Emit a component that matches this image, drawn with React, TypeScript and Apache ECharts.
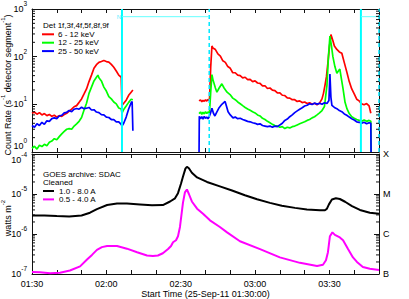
import React, { useEffect, useRef } from 'react';
import * as echarts from 'echarts';

const FONT = "'Liberation Sans', Arial, Helvetica, sans-serif";
const AXIS_COLOR = '#111';

// minutes after 01:30 UT
const X_MIN = 0;
const X_MAX = 140;
const TOP_MIN = 1;
const TOP_MAX = 1000;
const GOES_MIN = 1e-7;
const GOES_MAX = 1e-4;

const LEGEND_TITLE = 'Det 1f,3f,4f,5f,8f,9f';
const LEGEND_BANDS = ['6 - 12 keV', '12 - 25 keV', '25 - 50 keV'];
const BAND_COLORS = ['#ff0000', '#00ff00', '#0000ff'];
const GOES_TITLE = ['GOES archive: SDAC', 'Cleaned'];
const GOES_BANDS = ['1.0 - 8.0 A', '0.5 - 4.0 A'];
const GOES_COLORS = ['#000000', '#ff00ff'];
const GOES_CLASSES = ['B', 'C', 'M', 'X'];
const X_TITLE = 'Start Time (25-Sep-11 01:30:00)';

// RHESSI flags (minutes)
const NIGHT_START = 36.3;
const NIGHT_END = 71.5;
const SAA_START = 132.7;
const SAA_END = 140;
const FLAG_LEVEL = 690;

// count rates, [minute, counts/s]
const RATE_6_12: (number | null)[][] = [
  [0, 6.5], [1, 6.9], [2, 6.2], [3, 6.7], [4, 6.0], [5, 6.4], [6, 5.8], [7, 6.1], [8, 5.6], [9, 5.9],
  [10, 5.4], [11, 5.8], [12, 5.6], [13, 6.1], [14, 6.5], [15, 7.2], [16, 7.9], [17, 8.9], [18, 9.4], [19, 11],
  [20, 13], [21, 16.5], [22, 21], [23, 30], [24, 41], [25, 57], [26, 68], [27, 76], [28, 79], [29, 83],
  [30, 79], [31, 77], [32, 69], [33, 60], [34, 50], [35, 41], [36, 37], [36.3, 9.5], [37, 10.5], [38, 12.2],
  [39, 15.5], [40, 18], [40.7, 20],
  [55, null],
  [67.4, 11.8], [68, 12.4], [68.5, 11.3], [69, 12.1], [69.5, 11.6], [70, 12.5], [70.5, 11.7], [71, 12.6], [71.6, 12.0],
  [72.1, 60], [72.6, 168], [73, 152], [74, 141], [75, 114], [76, 103], [77, 82], [78, 76], [79, 62], [80, 57],
  [81, 46], [82, 46], [83, 41], [84, 40], [85, 36], [86, 37], [87, 33], [88, 33.5], [89, 30], [90, 31],
  [91, 28], [92, 27.5], [93, 24.5], [94, 24.5], [95, 21.5], [96, 22], [97, 19.8], [98, 19.4], [99, 17.3], [100, 17.4],
  [101, 15.5], [102, 15.3], [103, 13.6], [104, 13.5], [105, 12.5], [106, 12.5], [107, 11.5], [108, 11.8], [109, 10.9], [110, 11.2],
  [111, 10.4], [112, 10.8], [113, 10.0], [114, 10.5], [115, 9.8], [116, 10.6], [117, 13], [117.6, 17], [118.2, 25], [118.8, 38],
  [119.4, 75], [120, 160], [120.6, 290], [121.4, 215], [122, 168], [123, 142], [124, 126], [125, 118], [126, 75], [127, 48],
  [128, 30], [129, 21], [130, 16.5], [131, 12.8], [132, 11.8], [133, 10.2], [134, 9.8], [135, 10.4], [136, 9.3], [136.7, 6.5],
];

const RATE_12_25: (number | null)[][] = [
  [0, 1.2], [1, 1.32], [2, 1.15], [3, 1.38], [4, 1.3], [5, 1.45], [6, 1.35], [7, 1.6], [8, 1.7], [9, 1.9],
  [10, 1.8], [11, 2.1], [12, 2.4], [13, 2.7], [14, 3.0], [15, 3.1], [16, 3.0], [17, 3.5], [18, 3.9], [19, 4.4],
  [20, 5.3], [21, 7.6], [22, 10.5], [23, 17], [24, 23], [25, 31], [26, 37], [26.6, 41], [27, 36], [28, 31],
  [29, 23], [30, 19], [31, 14.5], [32, 13], [33, 11.2], [34, 10.2], [35, 8.4], [36, 8.0], [36.3, 6.5], [37, 7.8],
  [38, 9.2], [39, 11], [40, 12.8], [40.7, 12.5],
  [55, null],
  [67.4, 6.4], [68, 6.9], [68.5, 6.2], [69, 6.8], [69.5, 6.3], [70, 7.0], [70.5, 6.4], [71, 6.9], [71.6, 6.6],
  [72.1, 18], [72.6, 42], [73, 33], [74, 22], [74.6, 18], [75.5, 22], [76.6, 27], [77.5, 22], [78.7, 18], [79.9, 16],
  [81, 13.5], [82, 12.5], [83, 11.2], [84, 10.3], [85, 9.4], [86, 8.6], [87, 8.0], [88, 7.5], [89, 7.0], [90, 6.6],
  [91, 6.0], [92, 5.7], [93, 5.1], [94, 4.8], [95, 4.4], [96, 4.1], [97, 3.8], [98, 3.6], [99, 3.5], [100, 3.3],
  [101, 3.4], [102, 3.1], [103, 3.3], [104, 3.2], [105, 3.4], [106, 3.5], [107, 3.7], [108, 3.9], [109, 4.1], [110, 4.3],
  [111, 4.6], [112, 4.8], [113, 5.2], [114, 5.5], [115, 6.0], [116, 6.6], [117, 7.4], [118, 9], [119, 25], [119.6, 100],
  [120.2, 270], [120.8, 170], [121.4, 100], [122.2, 62], [123, 45], [123.6, 50], [124.2, 55], [124.8, 35], [125.5, 21], [126.3, 11],
  [127.1, 8], [128, 6.4], [129, 5.5], [130, 5.1], [131, 4.8], [132, 4.6], [133, 4.4], [134, 4.7], [135, 4.4], [136, 4.6],
  [136.7, 4.4], [136.8, 1],
];

const RATE_25_50: (number | null)[][] = [
  [0, 3.6], [1, 3.3], [2, 3.9], [3, 3.6], [4, 4.2], [5, 3.8], [6, 4.5], [7, 4.4], [8, 5.0], [9, 5.2],
  [10, 5.0], [11, 5.7], [12, 5.9], [13, 6.6], [14, 6.8], [15, 7.4], [16, 7.0], [17, 7.9], [18, 8.2], [19, 7.9],
  [20, 8.7], [21, 8.1], [22, 8.3], [23, 8.6], [24, 7.6], [25, 7.7], [26, 6.9], [27, 6.7], [28, 6.1], [29, 6.0],
  [30, 5.4], [31, 5.3], [32, 4.8], [33, 4.8], [34, 4.3], [35, 4.3], [36, 3.8], [36.3, 3.5], [37, 4.0], [38, 5.4],
  [39, 8], [40, 10.8], [40.4, 11.5], [40.7, 2.8],
  [55, null],
  [67.4, 1], [67.5, 5.6], [68, 5.0], [68.5, 5.5], [69, 4.9], [69.5, 5.6], [70, 5.1], [70.5, 5.4], [71, 5.0], [71.5, 5.5],
  [72, 6.5], [72.6, 8.3], [73.2, 6.5], [73.8, 5.7], [74.5, 6.8], [75.5, 8.5], [76.6, 10], [77.9, 11.5], [78.5, 9], [79.1, 7],
  [80, 6.0], [81.1, 5.2], [82, 5.4], [83, 5.0], [84, 5.1], [85, 4.8], [86, 4.6], [87, 4.4], [88, 4.3], [89, 4.1],
  [90, 4.0], [91, 3.8], [92, 3.9], [93, 3.6], [94, 3.5], [95, 3.4], [96, 3.5], [97, 3.3], [98, 3.5], [99, 3.4],
  [100, 3.7], [101, 4.0], [102, 4.6], [103, 4.9], [104, 5.5], [105, 6.0], [106, 6.7], [107, 7.3], [108, 7.9], [109, 8.5],
  [110, 9.2], [111, 9.6], [112, 10.3], [113, 9.9], [114, 10.6], [115, 10.1], [116, 10.5], [117, 10.0], [118, 10.8], [119, 10.4],
  [119.8, 12], [120.2, 43], [120.6, 14], [121, 9.5], [122, 8.6], [123, 8.1], [124, 7.4], [125, 7.0], [126, 6.3], [127, 5.9],
  [128, 5.4], [129, 5.0], [130, 4.7], [131, 4.3], [132, 4.2], [133, 4.0], [134, 4.2], [135, 3.9], [136, 4.1], [136.7, 4.0],
  [136.8, 1],
];

// GOES flux, [minute, W m^-2]
const GOES_LONG: number[][] = [
  [0, 2.9e-6], [5, 2.9e-6], [10, 2.8e-6], [15, 2.75e-6], [20, 2.9e-6], [23.4, 3.4e-6], [26.2, 4.2e-6], [30.3, 5.3e-6],
  [34.3, 5.8e-6], [38.3, 5.8e-6], [43.6, 5.5e-6], [48.4, 5.2e-6], [52.8, 5.3e-6], [55.7, 6.5e-6], [57.7, 7.8e-6],
  [58.9, 1.05e-5], [60.1, 1.8e-5], [60.9, 2.7e-5], [61.9, 4.3e-5], [62.5, 4.8e-5], [63.3, 4.4e-5], [64.5, 3.4e-5],
  [66.6, 2.6e-5], [70.6, 2.0e-5], [75.8, 1.55e-5], [80.7, 1.22e-5], [85.9, 9.3e-6], [90.8, 7.4e-6], [96, 6.0e-6],
  [100.8, 5.1e-6], [106.1, 4.5e-6], [110.9, 4.1e-6], [116.2, 3.9e-6], [118.2, 3.9e-6], [119, 4.3e-6], [119.8, 5.5e-6],
  [121, 7.3e-6], [122.6, 7.8e-6], [124.2, 7.5e-6], [126.3, 6.4e-6], [129.1, 5.0e-6], [132.3, 4.0e-6], [136.3, 3.4e-6],
  [140, 3.2e-6],
];

const GOES_SHORT: number[][] = [
  [0, 1.12e-7], [3.2, 1.1e-7], [7.3, 1.04e-7], [11.3, 1.08e-7], [15.3, 1.22e-7], [19.4, 1.55e-7], [22.2, 2.3e-7],
  [24.2, 3.0e-7], [26.2, 4.0e-7], [28.2, 4.7e-7], [30.3, 5.0e-7], [34.3, 5.0e-7], [38.3, 4.3e-7], [42.4, 3.5e-7],
  [46.4, 2.9e-7], [48.8, 2.8e-7], [50.8, 2.9e-7], [52.8, 3.3e-7], [54.9, 4.2e-7], [56.1, 5.0e-7], [56.9, 6.2e-7],
  [58.1, 7.0e-7], [58.9, 8.8e-7], [59.7, 1.5e-6], [60.9, 6e-6], [61.7, 1.1e-5], [62.5, 1.3e-5], [63.3, 1.0e-5],
  [64.5, 6.5e-6], [66.6, 4.3e-6], [69, 3.2e-6], [71.8, 2.2e-6], [75.8, 1.5e-6], [78.7, 1.1e-6], [83.9, 6.6e-7],
  [92, 4.2e-7], [100, 2.6e-7], [108.1, 1.9e-7], [115, 1.58e-7], [117.4, 1.7e-7], [118.6, 2.2e-7], [119.4, 3.5e-7],
  [120.2, 8.8e-7], [121.2, 1.1e-6], [122.2, 9.5e-7], [124.2, 8.2e-7], [125.5, 7e-7], [127.5, 4.2e-7], [129.5, 2.6e-7],
  [131.1, 2.0e-7], [133.5, 1.5e-7], [136.3, 1.35e-7], [140, 1.26e-7],
];

const LOG_MINOR = [2, 3, 4, 5, 6, 7, 8, 9];

function pad(n: number) {
  return n < 10 ? '0' + n : '' + n;
}

function timeLabel(v: number) {
  if (Math.round(v) % 30 !== 0) return '';
  const m = 90 + Math.round(v);
  return pad(Math.floor(m / 60)) + ':' + pad(m % 60);
}

function expOf(v: number) {
  return Math.round(Math.log10(v));
}

// top panel: the lowest label is nudged up a little, bottom panel: the highest nudged down
function topPowLabel(v: number) {
  const e = expOf(v);
  const txt = `{b|10}{s|${e}}`;
  return e === 0 ? `${txt}\n{g| }` : txt;
}

function goesPowLabel(v: number) {
  const e = expOf(v);
  const txt = `{b|10}{s|${e}}`;
  return e === -4 ? `{g| }\n${txt}` : txt;
}

const supRich = {
  b: { fontSize: 9, fontFamily: FONT, color: '#000', lineHeight: 18 },
  s: { fontSize: 6.5, fontFamily: FONT, color: '#000', lineHeight: 8, verticalAlign: 'top' },
  g: { fontSize: 6, fontFamily: FONT, color: '#000', lineHeight: 12 },
};

function xAxis(gridIndex: number, position: string, labels: boolean) {
  return {
    type: 'value',
    gridIndex,
    position,
    min: X_MIN,
    max: X_MAX,
    interval: 10,
    axisLine: { show: true, onZero: false, lineStyle: { color: AXIS_COLOR, width: 1 } },
    axisTick: { show: true, inside: true, length: 4, lineStyle: { color: AXIS_COLOR, width: 1 } },
    splitLine: { show: false },
    axisLabel: labels
      ? { show: true, formatter: timeLabel, margin: 5, fontSize: 9, fontFamily: FONT, color: '#000', showMinLabel: true, showMaxLabel: true }
      : { show: false },
    ...(labels
      ? {
          name: X_TITLE,
          nameLocation: 'middle',
          nameGap: 15,
          nameTextStyle: { fontSize: 9, fontFamily: FONT, color: '#000' },
        }
      : {}),
  };
}

function yAxis(gridIndex: number, position: string, min: number, max: number, label: any) {
  return {
    type: 'log',
    logBase: 10,
    gridIndex,
    position,
    min,
    max,
    axisLine: { show: true, onZero: false, lineStyle: { color: AXIS_COLOR, width: 1 } },
    axisTick: { show: true, inside: true, length: 5, lineStyle: { color: AXIS_COLOR, width: 1 } },
    splitLine: { show: false },
    axisLabel: label,
  };
}

function minorTicks(xAxisIndex: number, yAxisIndex: number, minExp: number, maxExp: number) {
  const vals: number[][] = [];
  for (let e = minExp; e < maxExp; e++) {
    for (const m of LOG_MINOR) vals.push([X_MIN, m * Math.pow(10, e)]);
  }
  return {
    type: 'custom',
    xAxisIndex,
    yAxisIndex,
    silent: true,
    z: 10,
    data: vals,
    renderItem: (_p: any, api: any) => {
      const v = api.value(1);
      const a = api.coord([X_MIN, v]);
      const b = api.coord([X_MAX, v]);
      return {
        type: 'group',
        children: [
          { type: 'line', shape: { x1: a[0], y1: a[1], x2: a[0] + 3, y2: a[1] }, style: { stroke: AXIS_COLOR, lineWidth: 1 } },
          { type: 'line', shape: { x1: b[0] - 3, y1: b[1], x2: b[0], y2: b[1] }, style: { stroke: AXIS_COLOR, lineWidth: 1 } },
        ],
      };
    },
  };
}

function lineSeries(data: any[], color: string, width: number, xi: number, yi: number, extra: any = {}) {
  return {
    type: 'line',
    xAxisIndex: xi,
    yAxisIndex: yi,
    data,
    showSymbol: false,
    symbol: 'none',
    connectNulls: false,
    lineStyle: { color, width },
    itemStyle: { color },
    silent: true,
    ...extra,
  };
}

export default function App() {
  const ref = useRef<HTMLDivElement>(null);

  useEffect(() => {
    if (!ref.current) return;
    const chart = echarts.init(ref.current, undefined, { renderer: 'svg' });

    const legendFont = `8px ${FONT}`;
    const ROW = 8.4;
    const graphic: any[] = [
      {
        type: 'text', x: 43, y: 25.8,
        style: { text: LEGEND_TITLE, font: legendFont, fill: '#000', align: 'left', verticalAlign: 'middle' },
      },
      ...LEGEND_BANDS.flatMap((name, i) => [
        { type: 'line', shape: { x1: 42, y1: 34.3 + i * ROW, x2: 54, y2: 34.3 + i * ROW }, style: { stroke: BAND_COLORS[i], lineWidth: 2 } },
        { type: 'text', x: 58, y: 34.3 + i * ROW, style: { text: name, font: legendFont, fill: '#000', align: 'left', verticalAlign: 'middle' } },
      ]),
      ...GOES_TITLE.map((t, i) => ({
        type: 'text', x: 43, y: 174.2 + i * ROW,
        style: { text: t, font: legendFont, fill: '#000', align: 'left', verticalAlign: 'middle' },
      })),
      ...GOES_BANDS.flatMap((name, i) => [
        { type: 'line', shape: { x1: 43, y1: 191 + i * ROW, x2: 54, y2: 191 + i * ROW }, style: { stroke: GOES_COLORS[i], lineWidth: 2 } },
        { type: 'text', x: 59, y: 191 + i * ROW, style: { text: name, font: legendFont, fill: '#000', align: 'left', verticalAlign: 'middle' } },
      ]),
      {
        type: 'text', x: 8, y: 85, rotation: Math.PI / 2,
        style: {
          text: '{n|Count Rate (s}{s|-1}{n| detector segment}{s|-1}{n|)}',
          align: 'center', verticalAlign: 'middle',
          rich: {
            n: { fontSize: 9, fontFamily: FONT, fill: '#000', lineHeight: 16 },
            s: { fontSize: 6, fontFamily: FONT, fill: '#000', lineHeight: 8, verticalAlign: 'top' },
          },
        },
      },
      {
        type: 'text', x: 8, y: 218, rotation: Math.PI / 2,
        style: {
          text: '{n|watts m}{s|-2}',
          align: 'center', verticalAlign: 'middle',
          rich: {
            n: { fontSize: 9, fontFamily: FONT, fill: '#000', lineHeight: 16 },
            s: { fontSize: 6, fontFamily: FONT, fill: '#000', lineHeight: 8, verticalAlign: 'top' },
          },
        },
      },
    ];

    const option: any = {
      animation: false,
      textStyle: { fontFamily: FONT },
      grid: [
        { left: 32, top: 5, width: 347, height: 147 },
        { left: 32, top: 154, width: 347, height: 121 },
      ],
      xAxis: [
        xAxis(0, 'bottom', false),
        xAxis(0, 'top', false),
        xAxis(1, 'bottom', true),
        xAxis(1, 'top', false),
      ],
      yAxis: [
        yAxis(0, 'left', TOP_MIN, TOP_MAX, { show: true, formatter: topPowLabel, rich: supRich, margin: 5 }),
        yAxis(0, 'right', TOP_MIN, TOP_MAX, { show: false }),
        yAxis(1, 'left', GOES_MIN, GOES_MAX, { show: true, formatter: goesPowLabel, rich: supRich, margin: 5 }),
        yAxis(1, 'right', GOES_MIN, GOES_MAX, {
          show: true,
          margin: 4,
          fontSize: 9,
          fontFamily: FONT,
          color: '#000',
          formatter: (v: number) => GOES_CLASSES[expOf(v) + 7] || '',
        }),
      ],
      series: [
        lineSeries(RATE_6_12, BAND_COLORS[0], 1.7, 0, 0),
        lineSeries(RATE_12_25, BAND_COLORS[1], 1.7, 0, 0),
        lineSeries(RATE_25_50, BAND_COLORS[2], 1.7, 0, 0),
        lineSeries([[NIGHT_START, TOP_MIN], [NIGHT_START, TOP_MAX]], '#00ffff', 2, 0, 0, { clip: false, z: 4 }),
        lineSeries([[SAA_START, TOP_MIN], [SAA_START, TOP_MAX]], '#00ffff', 2, 0, 0, { clip: false, z: 4 }),
        lineSeries([[NIGHT_END, TOP_MIN], [NIGHT_END, TOP_MAX]], '#00e0ff', 1.5, 0, 0, {
          clip: false, z: 4, lineStyle: { color: '#00e8ff', width: 1.5, type: [4, 3] },
        }),
        lineSeries([[SAA_END, TOP_MIN], [SAA_END, TOP_MAX]], '#00e0ff', 1.5, 0, 0, {
          clip: false, z: 4, lineStyle: { color: '#00e8ff', width: 1.5, type: [4, 3] },
        }),
        lineSeries(
          [[NIGHT_START, FLAG_LEVEL], [NIGHT_END, FLAG_LEVEL], [100, null], [SAA_START, FLAG_LEVEL], [SAA_END, FLAG_LEVEL]],
          '#66ffff', 1, 0, 0,
          {
            clip: false, z: 4,
            markPoint: {
              symbol: 'circle',
              symbolSize: 0,
              silent: true,
              label: { show: true, formatter: 'N', position: 'left', distance: 1, fontSize: 6, color: '#55eeff', fontFamily: FONT },
              data: [{ coord: [NIGHT_START, FLAG_LEVEL] }],
            },
          },
        ),
        lineSeries(GOES_LONG, GOES_COLORS[0], 2, 2, 2),
        lineSeries(GOES_SHORT, GOES_COLORS[1], 2, 2, 2),
        minorTicks(0, 0, 0, 3),
        minorTicks(2, 2, -7, -4),
      ],
      graphic,
    };

    chart.setOption(option);
    return () => chart.dispose();
  }, []);

  return (
    <div
      ref={ref}
      style={{ position: 'fixed', left: 0, top: 0, width: 409, height: 299, background: '#fff' }}
    />
  );
}
